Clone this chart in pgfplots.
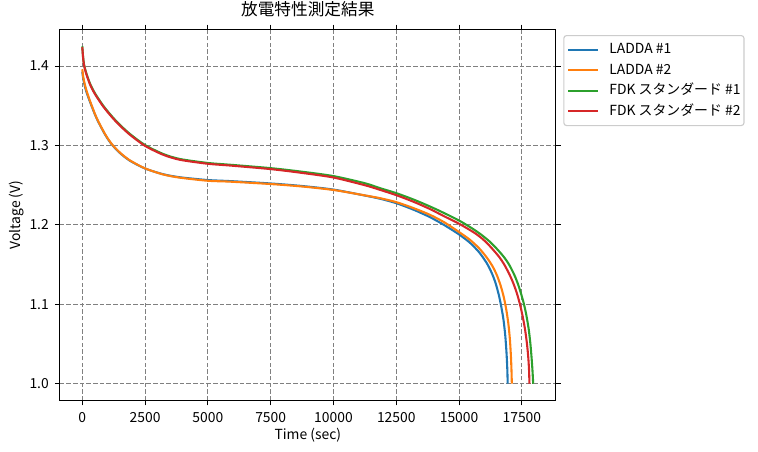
\documentclass[border=0pt]{standalone}
\usepackage{fontspec}
\setmainfont{Noto Sans CJK JP}
\usepackage{pgfplots}
\usepackage{pgfplotstable}
\pgfplotsset{compat=1.18}
\definecolor{c0}{HTML}{1F77B4}
\definecolor{c1}{HTML}{FF7F0E}
\definecolor{c2}{HTML}{2CA02C}
\definecolor{c3}{HTML}{D62728}

\pgfplotstableread{
t v
0 1.393
50 1.382
150 1.369
307 1.355
573 1.3340
904 1.3140
1169 1.3015
1500 1.2905
1899 1.2808
2500 1.2710
3225 1.2638
3889 1.2600
5000 1.2565
5880 1.2552
7500 1.2522
8750 1.2490
10000 1.2445
11250 1.2370
11851 1.2330
12500 1.2274
13200 1.2190
13842 1.2098
14400 1.2000
15000 1.1880
15434 1.1775
15800 1.1655
16100 1.1520
16300 1.1395
16450 1.1270
16580 1.1120
16680 1.0970
16770 1.0800
16840 1.0600
16890 1.0380
16920 1.0180
16935 1.0000
}\ladA

\pgfplotstableread{
t v
0 1.396
50 1.384
150 1.371
307 1.356
573 1.3345
904 1.3145
1169 1.3020
1500 1.2910
1899 1.2812
2500 1.2712
3225 1.2635
3889 1.2595
5000 1.2556
5880 1.2545
7500 1.2515
8750 1.2484
10000 1.2440
11250 1.2372
11851 1.2337
12500 1.2287
13200 1.2210
13842 1.2127
14400 1.2035
15000 1.1910
15434 1.1812
15800 1.1705
16100 1.1590
16330 1.1480
16500 1.1370
16650 1.1240
16780 1.1090
16880 1.0930
16960 1.0760
17020 1.0570
17060 1.0370
17085 1.0180
17100 1.0000
}\ladB

\pgfplotstableread{
t v
0 1.425
30 1.412
70 1.402
150 1.392
307 1.378
500 1.366
836 1.350
1200 1.336
1500 1.326
1899 1.3145
2500 1.3005
3225 1.2893
3889 1.2830
5000 1.2780
5880 1.2758
7500 1.2715
8750 1.2670
10000 1.2615
11250 1.2525
11851 1.2463
12500 1.2400
13200 1.2318
13842 1.2232
14400 1.2150
15000 1.2055
15500 1.1960
15870 1.1880
16200 1.1795
16500 1.1700
16800 1.1590
17000 1.1495
17200 1.1370
17350 1.1250
17480 1.1120
17584 1.1000
17680 1.0860
17770 1.0690
17840 1.0500
17890 1.0310
17925 1.0150
17950 1.0000
}\fdkA

\pgfplotstableread{
t v
0 1.424
30 1.411
70 1.401
150 1.391
307 1.377
500 1.365
836 1.349
1200 1.335
1500 1.325
1899 1.3135
2500 1.2995
3225 1.2883
3889 1.2820
5000 1.2770
5880 1.2748
7500 1.2703
8750 1.2655
10000 1.2597
11250 1.2500
11851 1.2442
12500 1.2375
13200 1.2290
13842 1.2200
14400 1.2110
15000 1.2015
15565 1.1910
15832 1.1850
16100 1.1775
16362 1.1685
16600 1.1595
16800 1.1500
17000 1.1380
17157 1.1267
17300 1.1140
17424 1.1000
17530 1.0850
17623 1.0690
17700 1.0510
17755 1.0330
17785 1.0170
17802 1.0000
}\fdkB

\begin{document}
\begin{tikzpicture}
\path[use as bounding box] (0,0) rectangle (545.76bp,325.44bp);
\begin{axis}[
  at={(43.02bp,37.15bp)}, anchor=south west,
  scale only axis, width=357.2bp, height=266.98bp,
  xmin=-897.75, xmax=18852.75, ymin=0.979, ymax=1.446,
  scaled x ticks=false, scaled y ticks=false,
  xtick={0,2500,5000,7500,10000,12500,15000,17500},
  xticklabels={0,2500,5000,7500,10000,12500,15000,17500},
  ytick={1.0,1.1,1.2,1.3,1.4},
  yticklabels={1.0,1.1,1.2,1.3,1.4},
  tick align=outside, major tick length=3.5bp,
  tick style={line width=0.8bp, black},
  axis line style={line width=0.8bp},
  grid=major,
  major grid style={color=gray, line width=0.8bp, dash pattern=on 3.2bp off 1.6bp},
  tick label style={font=\fontsize{10bp}{12bp}\selectfont},
  xticklabel style={inner sep=0pt, anchor=north, yshift=-4.6bp},
  yticklabel style={inner sep=0pt, anchor=east, xshift=-4.2bp},
  label style={font=\fontsize{10bp}{12bp}\selectfont},
  xlabel={Time (sec)},
  ylabel={Voltage (V)},
  xlabel style={at={(axis description cs:0.5,-0.0933)}, anchor=center, inner sep=0pt},
  ylabel style={at={(axis description cs:-0.0862,0.5)}, anchor=center, inner sep=0pt, rotate=0},
  title={放電特性測定結果},
  title style={font=\fontsize{12bp}{14bp}\selectfont, at={(axis description cs:0.5,1.0313)}, anchor=center, inner sep=0pt},
  legend style={at={(axis description cs:1.0149,0.9854)}, anchor=north west,
    draw=black!20, rounded corners=2bp, line width=0.8bp,
    font=\fontsize{10bp}{12bp}\selectfont,
    inner xsep=2.5bp, inner ysep=5.6bp,
    row sep=5.2bp, column sep=7.2bp,
    nodes={inner sep=0pt, text height=7.5bp, text depth=2bp},
    cells={anchor=west}},
  legend image code/.code={\draw[#1, line width=1.5bp] (0bp,0bp) -- (21.6bp,0bp);},
  every axis plot/.append style={line width=1.5bp, no markers, smooth, tension=0.45},
]
\addplot[c0] table[x=t,y=v] {\ladA};
\addlegendentry{LADDA \#1}
\addplot[c1] table[x=t,y=v] {\ladB};
\addlegendentry{LADDA \#2}
\addplot[c2] table[x=t,y=v] {\fdkA};
\addlegendentry{FDK スタンダード \#1}
\addplot[c3] table[x=t,y=v] {\fdkB};
\addlegendentry{FDK スタンダード \#2}
\end{axis}
\end{tikzpicture}
\end{document}
